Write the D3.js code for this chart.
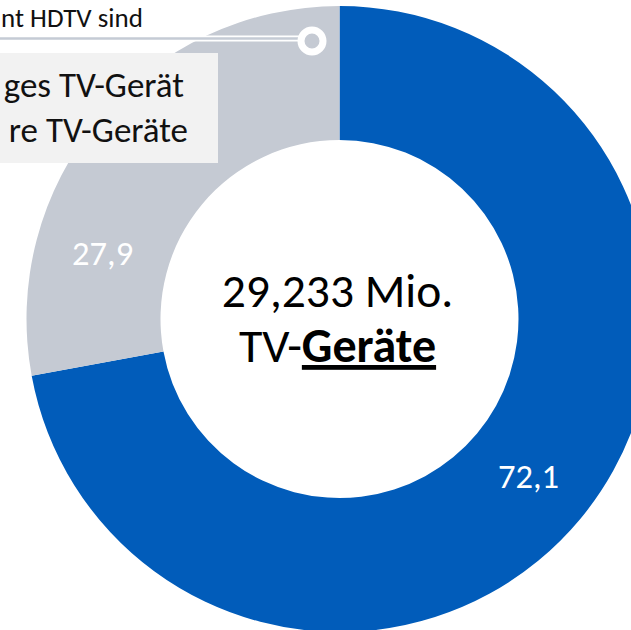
<!DOCTYPE html>
<html>
<head>
<meta charset="utf-8">
<script src="https://cdn.jsdelivr.net/npm/d3@7/dist/d3.min.js"></script>
<style>
  html, body { margin: 0; padding: 0; background: #fff; overflow: hidden; }
  svg { display: block; }
  text { font-family: Carlito, Calibri, Lato, "Noto Sans", sans-serif; }
</style>
</head>
<body>
<svg id="chart" width="631" height="630"></svg>
<script>
// Anteile der TV-Geräte (in %)
const categories = ["HDTV", "nicht HDTV"];
const shares = [72.1, 27.9];
const valueLabels = ["72,1", "27,9"];
const sliceColors = ["#015cba", "#c5cad3"];
// position of each value label along its slice (0 = start, 1 = end)
const labelAt = [0.5, 0.26];

const totalLines = ["29,233 Mio.", "TV-", "Geräte"];
const calloutTitle = "nt HDTV sind";
const boxLines = ["ges TV-Gerät", "re TV-Geräte"];

const svg = d3.select("#chart");
const cx = 339.5, cy = 319;
const rOuter = 313, rInner = 179;

const data = categories.map((c, i) => ({ cat: c, value: shares[i], label: valueLabels[i], color: sliceColors[i], at: labelAt[i] }));

const pie = d3.pie().value(d => d.value).sort(null);
const arc = d3.arc().innerRadius(rInner).outerRadius(rOuter);
const arcs = pie(data);

const g = svg.append("g").attr("transform", `translate(${cx},${cy})`);

g.selectAll("path.slice")
  .data(arcs)
  .join("path")
  .attr("class", "slice")
  .attr("d", arc)
  .attr("fill", d => d.data.color);

// value labels inside the ring
const rMid = (rInner + rOuter) / 2;
const labelPos = arcs.map(d => {
  const a = d.startAngle + (d.endAngle - d.startAngle) * d.data.at;
  return { x: Math.sin(a) * rMid, y: -Math.cos(a) * rMid, text: d.data.label };
});
const labelLayer = svg.append("g").attr("transform", `translate(${cx},${cy})`);
labelPos.forEach(p => {
  labelLayer.append("text")
    .attr("x", p.x)
    .attr("y", p.y + 12)
    .attr("text-anchor", "middle")
    .style("fill", "#ffffff")
    .attr("font-size", 34.5)
    .text(p.text);
});

// total in the hole
const center = svg.append("g").attr("text-anchor", "middle");
center.append("text")
  .attr("x", 337.5).attr("y", 307)
  .attr("font-size", 47.5)
  .attr("fill", "#000")
  .text(totalLines[0]);
const t2 = center.append("text")
  .attr("x", 337.5).attr("y", 362)
  .attr("font-size", 48)
  .attr("fill", "#000");
t2.append("tspan").text(totalLines[1]);
t2.append("tspan").attr("font-weight", "bold").attr("text-decoration", "underline").text(totalLines[2]);

// callout line with ring marker
const callout = svg.append("g");
callout.append("line")
  .attr("x1", -5).attr("x2", 312).attr("y1", 38.5).attr("y2", 38.5)
  .attr("stroke", "#fff").attr("stroke-width", 6);
callout.append("line")
  .attr("x1", -5).attr("x2", 312).attr("y1", 38.5).attr("y2", 38.5)
  .attr("stroke", "#c5cbd5").attr("stroke-width", 2.5);
callout.append("circle")
  .attr("cx", 312).attr("cy", 41).attr("r", 11)
  .attr("fill", "#c5cad3").attr("stroke", "#fff").attr("stroke-width", 7);

svg.append("text")
  .attr("x", 1).attr("y", 26.5)
  .attr("text-anchor", "start")
  .attr("font-size", 27)
  .attr("fill", "#111")
  .text(calloutTitle);

// legend box
svg.append("rect")
  .attr("x", -2).attr("y", 53).attr("width", 220).attr("height", 110)
  .attr("fill", "#f2f2f2");
svg.append("text")
  .attr("x", 184).attr("y", 97)
  .attr("text-anchor", "end")
  .attr("font-size", 35)
  .attr("fill", "#111")
  .text(boxLines[0]);
svg.append("text")
  .attr("x", 188).attr("y", 142)
  .attr("text-anchor", "end")
  .attr("font-size", 35)
  .attr("fill", "#111")
  .text(boxLines[1]);
</script>
</body>
</html>
